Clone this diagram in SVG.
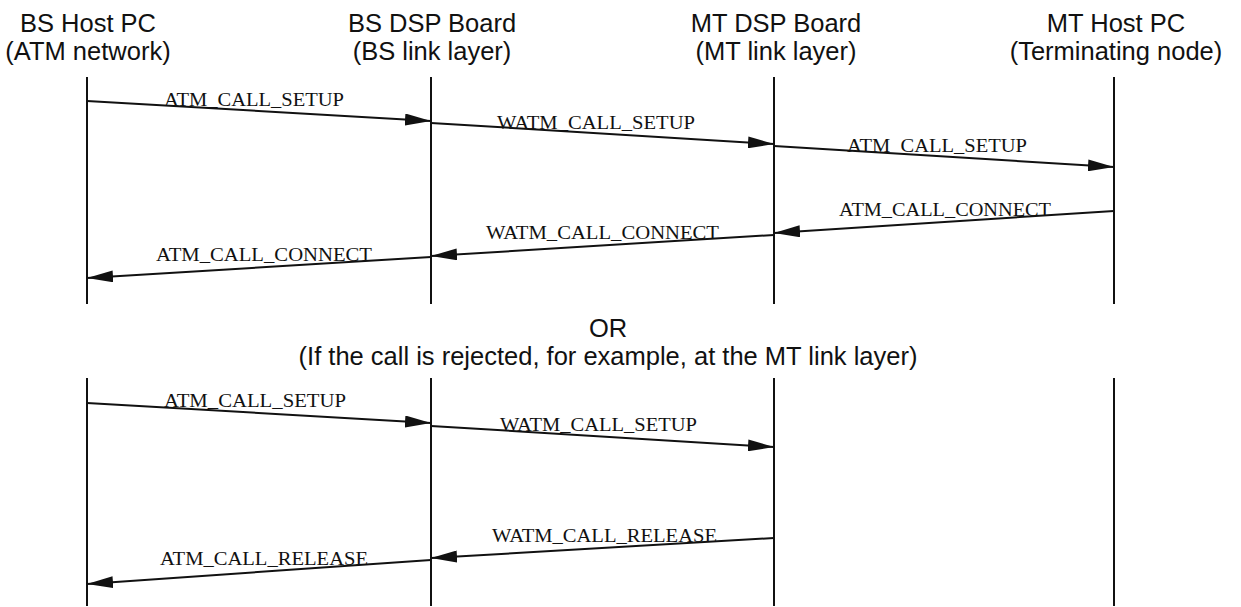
<svg xmlns="http://www.w3.org/2000/svg" width="1241" height="607" viewBox="0 0 1241 607">
<style>
.hdr{font-family:"Liberation Sans",Arial,sans-serif;font-size:25.5px;fill:#111;text-anchor:middle}
.lbl{font-family:"Liberation Serif","Times New Roman",serif;font-size:18px;fill:#111}
.life{stroke:#111;stroke-width:2;fill:none}
.msg{stroke:#111;stroke-width:2;fill:none;marker-end:url(#ah)}
</style>
<defs>
<marker id="ah" viewBox="0 0 26 12" refX="26" refY="6" markerWidth="26" markerHeight="12" markerUnits="userSpaceOnUse" orient="auto">
<path d="M0,0 L26,6 L0,12 z" fill="#111"/>
</marker>
</defs>
<rect width="1241" height="607" fill="#fff"/>
<g id="bs-host">
<text class="hdr" x="88" y="31.5">BS Host PC</text>
<text class="hdr" x="88" y="60">(ATM network)</text>
<line class="life" x1="87" y1="77" x2="87" y2="304"/>
<line class="life" x1="87" y1="378" x2="87" y2="606"/>
</g>
<g id="bs-dsp">
<text class="hdr" x="432" y="31.5">BS DSP Board</text>
<text class="hdr" x="432" y="60">(BS link layer)</text>
<line class="life" x1="431" y1="77" x2="431" y2="304"/>
<line class="life" x1="431" y1="378" x2="431" y2="606"/>
</g>
<g id="mt-dsp">
<text class="hdr" x="776" y="31.5">MT DSP Board</text>
<text class="hdr" x="776" y="60">(MT link layer)</text>
<line class="life" x1="774" y1="77" x2="774" y2="304"/>
<line class="life" x1="774" y1="378" x2="774" y2="606"/>
</g>
<g id="mt-host">
<text class="hdr" x="1116" y="31.5">MT Host PC</text>
<text class="hdr" x="1116" y="60">(Terminating node)</text>
<line class="life" x1="1114" y1="77" x2="1114" y2="304"/>
<line class="life" x1="1114" y1="378" x2="1114" y2="606"/>
</g>
<g id="or-note">
<text class="hdr" x="608" y="337">OR</text>
<text class="hdr" x="608" y="365">(If the call is rejected, for example, at the MT link layer)</text>
</g>
<g id="connectors">
<line class="msg" x1="87" y1="101" x2="431" y2="121"/>
<line class="msg" x1="431" y1="123" x2="774" y2="144"/>
<line class="msg" x1="774" y1="146" x2="1114" y2="167"/>
<line class="msg" x1="1114" y1="211" x2="774" y2="233"/>
<line class="msg" x1="774" y1="235" x2="431" y2="256"/>
<line class="msg" x1="431" y1="257" x2="87" y2="278"/>
<line class="msg" x1="87" y1="403" x2="431" y2="423"/>
<line class="msg" x1="431" y1="426" x2="774" y2="447"/>
<line class="msg" x1="774" y1="538" x2="431" y2="558"/>
<line class="msg" x1="431" y1="560" x2="87" y2="584"/>
</g>
<g id="labels">
<text class="lbl" x="164" y="106" textLength="180" lengthAdjust="spacingAndGlyphs">ATM_CALL_SETUP</text>
<text class="lbl" x="497" y="129" textLength="198" lengthAdjust="spacingAndGlyphs">WATM_CALL_SETUP</text>
<text class="lbl" x="847" y="152" textLength="180" lengthAdjust="spacingAndGlyphs">ATM_CALL_SETUP</text>
<text class="lbl" x="839" y="216" textLength="212" lengthAdjust="spacingAndGlyphs">ATM_CALL_CONNECT</text>
<text class="lbl" x="486" y="239" textLength="233" lengthAdjust="spacingAndGlyphs">WATM_CALL_CONNECT</text>
<text class="lbl" x="156" y="261" textLength="216" lengthAdjust="spacingAndGlyphs">ATM_CALL_CONNECT</text>
<text class="lbl" x="164" y="407" textLength="182" lengthAdjust="spacingAndGlyphs">ATM_CALL_SETUP</text>
<text class="lbl" x="500" y="431" textLength="197" lengthAdjust="spacingAndGlyphs">WATM_CALL_SETUP</text>
<text class="lbl" x="492" y="542" textLength="225" lengthAdjust="spacingAndGlyphs">WATM_CALL_RELEASE</text>
<text class="lbl" x="160" y="565" textLength="208" lengthAdjust="spacingAndGlyphs">ATM_CALL_RELEASE</text>
</g>
</svg>
